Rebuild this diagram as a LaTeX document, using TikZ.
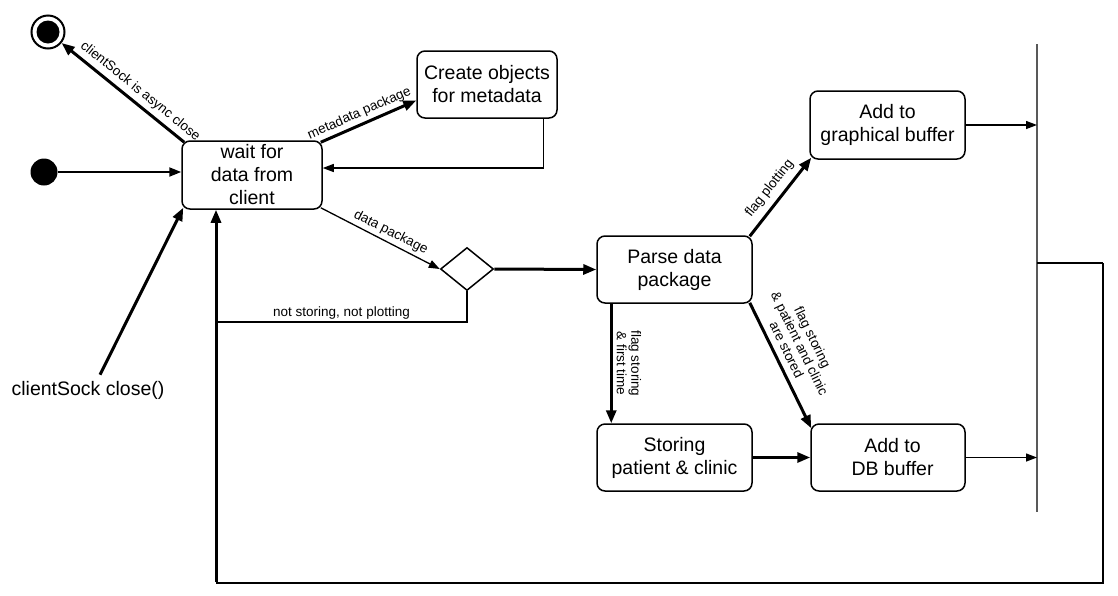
\documentclass[tikz,border=0pt]{standalone}
\usepackage{fontspec}
\setmainfont{Liberation Sans}
\usetikzlibrary{shapes.geometric,arrows.meta}
\begin{document}
\begin{tikzpicture}[x=1pt,y=-1pt,
  statebox/.style={draw, line width=1.5pt, rounded corners=8pt, align=center,
    inner sep=0pt, font=\fontsize{19.5}{23}\selectfont},
  lbl/.style={font=\fontsize{13.5}{14.5}\selectfont, inner sep=2pt, align=center},
  thk/.style={line width=3pt, -{Triangle[length=13pt,width=10pt]}},
  thn/.style={line width=1.3pt, -{Triangle[length=11pt,width=8pt]}},
  med/.style={line width=2pt, -{Triangle[length=12pt,width=9pt]}},
  line join=miter]
\useasboundingbox (0,0) rectangle (1118,595);

% states
\node[statebox, minimum width=140pt, minimum height=68pt] (wait) at (252,175) {wait for\\data from\\client};
\node[statebox, minimum width=140pt, minimum height=67pt] (create) at (487,84.5) {Create objects\\for metadata};
\node[draw, diamond, line width=1.5pt, minimum width=53pt, minimum height=43pt, inner sep=0pt] (dia) at (467,269) {};
\node[statebox, minimum width=155pt, minimum height=67pt] (parse) at (674.5,269.5) {Parse data\\package};
\node[statebox, minimum width=155pt, minimum height=68pt] (graph) at (887.5,125) {Add to\\graphical buffer};
\node[statebox, minimum width=155pt, minimum height=67pt] (storing) at (674.5,457.5) {Storing\\patient \& clinic};
\node[statebox, minimum width=154pt, minimum height=67pt] (db) at (888,457.5) {\hspace*{9pt}Add to\\\hspace*{9pt}DB buffer};

% initial and final states
\node[circle, fill, minimum size=27pt, inner sep=0pt] (init) at (44,172) {};
\node[circle, draw, line width=2pt, minimum size=33pt, inner sep=0pt] (fin) at (48,32) {};
\node[circle, fill, minimum size=23pt, inner sep=0pt] (finin) at (48,32) {};

% text node
\node[font=\fontsize{19.5}{23}\selectfont, inner sep=0pt] (cs) at (88,390) {clientSock close()};

% bar
\coordinate (bt) at (1037,44);
\coordinate (bb) at (1037,512);
\draw[line width=2pt, color=black!65] (bt) -- (bb);

% loop coordinates
\coordinate (lA) at (1037,263);
\coordinate (lB) at (1103,263);
\coordinate (lC) at (1103,583);
\coordinate (lD) at (216,583);
\coordinate (j) at (216,322);

% connectors
\draw[med] (init) -- (init -| wait.west);
\draw[thk] ([xshift=3pt,yshift=-2pt]wait.north west) -- (fin)
  node[lbl, pos=0.42, sloped, above, inner sep=4pt] {clientSock is async close};
\draw[thk] ([xshift=-2pt,yshift=-2pt]wait.north east) -- ([yshift=-16pt]create.west)
  node[lbl, pos=0.45, sloped, above, inner sep=3pt] {metadata package};
\draw[thn] ([xshift=-14pt]create.south east) |- ([yshift=7pt]wait.east);
\draw[thn] ([xshift=-2pt,yshift=2pt]wait.south east) -- (dia.west)
  node[lbl, pos=0.55, sloped, above, inner sep=3pt] {data package};
\draw[thk] (dia.east) -- (parse.west);
\draw[line width=1.3pt] (dia.south) |- node[lbl, pos=0.75, above] {not storing, not plotting} (j);
\draw[thk] ([xshift=12pt,yshift=6pt]cs.north) -- ([xshift=2pt,yshift=2pt]wait.south west);

\draw[line width=1.3pt] (lA) -- (lB);
\draw[line width=2pt] (lB) -- (lC) -- (lD);
\draw[thk] ([yshift=1pt]lD) -- (wait.south -| lD);

\draw[thk] ([xshift=-3pt,yshift=-1pt]parse.north east) -- ([xshift=2pt,yshift=2pt]graph.south west)
  node[lbl, pos=0.5, sloped, above, inner sep=6pt] {flag plotting};
\draw[thk] ([xshift=15pt]parse.south west) -- ([xshift=15pt]storing.north west)
  node[lbl, midway, rotate=-90, anchor=south, inner sep=4pt] {flag storing\\\& first time};
\draw[thk] ([xshift=-3pt,yshift=1pt]parse.south east) -- ([xshift=1pt,yshift=-5pt]db.north west)
  node[lbl, pos=0.42, sloped, above, inner sep=6pt] {flag storing\\\& patient and clinic\\are stored};
\draw[thk] (storing.east) -- (storing.east -| db.west);
\draw[thn] (graph.east) -- (graph.east -| bt);
\draw[thn] (db.east) -- (db.east -| bt);
\end{tikzpicture}
\end{document}
